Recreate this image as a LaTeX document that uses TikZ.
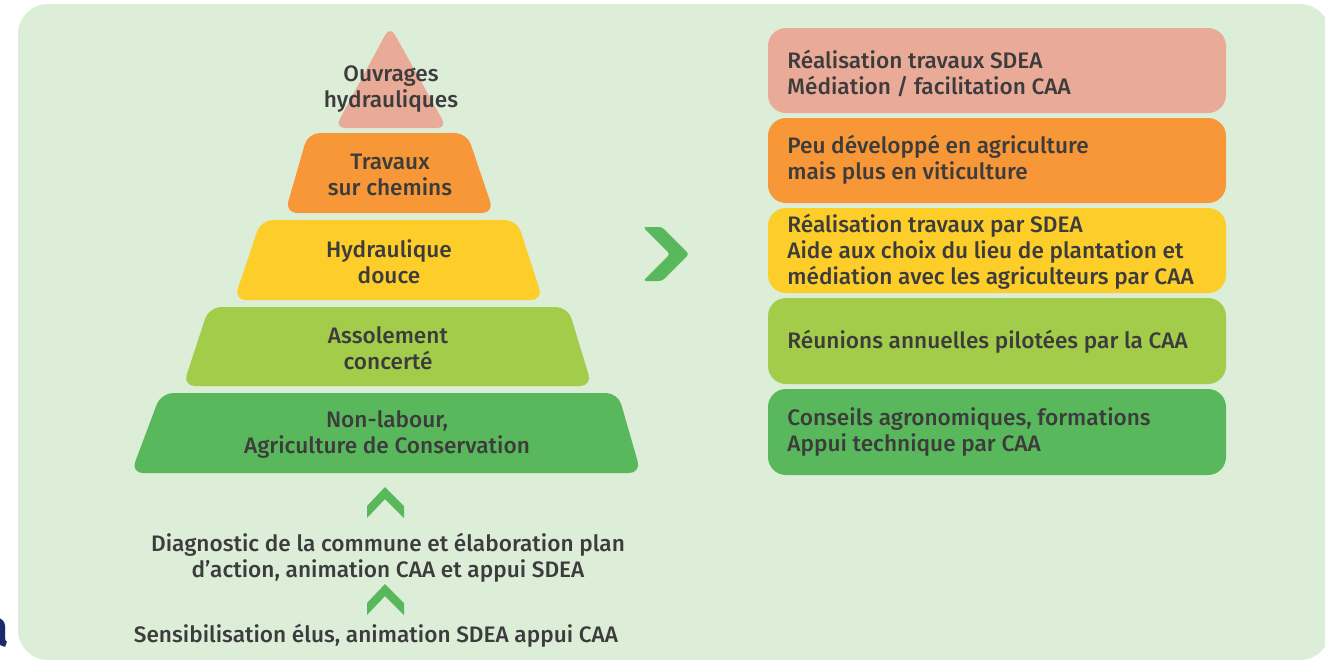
\documentclass[tikz,border=0pt]{standalone}
\usepackage{fontspec}
\setmainfont{Fira Sans}[UprightFont=* Medium, FakeStretch=1.01]
\newfontfamily\navyfont{Fira Sans}
\definecolor{bgc}{HTML}{DCEDD8}
\definecolor{pinkc}{HTML}{EAAA98}
\definecolor{orangec}{HTML}{F79737}
\definecolor{yellowc}{HTML}{FDCD2A}
\definecolor{lgreenc}{HTML}{A3CC4A}
\definecolor{greenc}{HTML}{5AB85C}
\definecolor{txtc}{HTML}{3C3C3C}
\definecolor{navyc}{HTML}{1B2A6B}
\tikzset{
  ptext/.style={text=txtc, font=\fontsize{11.2pt}{13pt}\selectfont, align=center, inner sep=0pt},
  rtext/.style={text=txtc, font=\fontsize{11.2pt}{13pt}\selectfont, align=left, inner sep=0pt, anchor=west},
  rbox/.style={rounded corners=9pt},
  layer/.style={rounded corners=6pt},
}
\begin{document}
\begin{tikzpicture}[x=0.5pt,y=-0.5pt]
\useasboundingbox (0,0) rectangle (1325,661);
\clip (0,0) rectangle (1325,661);
% background panel
\fill[bgc, rounded corners=15pt] (18,4) rectangle (1330,660);
% partial letter at left edge
\node[text=navyc, font=\navyfont\bfseries\fontsize{26pt}{30pt}\selectfont, anchor=base east, inner sep=0pt] (edgea) at (9,646) {a};
% pyramid layers
\fill[pinkc, rounded corners=5pt] (390,26) -- (447,128) -- (335,128) -- cycle;
\fill[orangec, layer] (308,133) -- (467,133) -- (494,213) -- (285,213) -- cycle;
\fill[yellowc, layer] (261,220) -- (517,220) -- (543,300) -- (234,300) -- cycle;
\fill[lgreenc, layer] (209,307) -- (568,307) -- (592,386) -- (183,386) -- cycle;
\fill[greenc, layer] (161,393) -- (618,393) -- (641,473) -- (131,473) -- cycle;
\node[ptext] (p1) at (391,89) {Ouvrages\\hydrauliques};
\node[ptext] (p2) at (390,175) {Travaux\\sur chemins};
\node[ptext] (p3) at (389,262) {Hydraulique\\douce};
\node[ptext] (p4) at (388,348) {Assolement\\concerté};
\node[ptext] (p5) at (387,434) {Non-labour,\\Agriculture de Conservation};
% up chevrons
\fill[greenc] (367,506) -- (385,487) -- (404,506) -- (404,518) -- (385,499) -- (367,518) -- cycle;
\fill[greenc] (367,603) -- (385,584) -- (404,603) -- (404,615) -- (385,596) -- (367,615) -- cycle;
\node[ptext] (b1) at (388,558) {Diagnostic de la commune et élaboration plan\\d{\char"27}action, animation CAA et appui SDEA};
\node[ptext] (b2) at (376,636) {Sensibilisation élus, animation SDEA appui CAA};
% right chevron
\fill[greenc, rounded corners=1.5pt] (643,227) -- (662,227) -- (689,254) -- (662,281) -- (643,281) -- (670,254) -- cycle;
% right boxes
\fill[pinkc, rbox] (768,28) rectangle (1226,113);
\fill[orangec, rbox] (768,118) rectangle (1226,203);
\fill[yellowc, rbox] (768,208) rectangle (1226,293);
\fill[lgreenc, rbox] (768,298) rectangle (1226,384);
\fill[greenc, rbox] (768,389) rectangle (1226,475);
\node[rtext] (r1) at (787,73.5) {Réalisation travaux SDEA\\Médiation / facilitation CAA};
\node[rtext] (r2) at (787,159.5) {Peu développé en agriculture\\mais plus en viticulture};
\node[rtext] (r3) at (787,251.5) {Réalisation travaux par SDEA\\Aide aux choix du lieu de plantation et\\médiation avec les agriculteurs par CAA};
\node[rtext] (r4) at (787,341.5) {Réunions annuelles pilotées par la CAA};
\node[rtext] (r5) at (787,431.5) {Conseils agronomiques, formations\\Appui technique par CAA};
\end{tikzpicture}
\end{document}
